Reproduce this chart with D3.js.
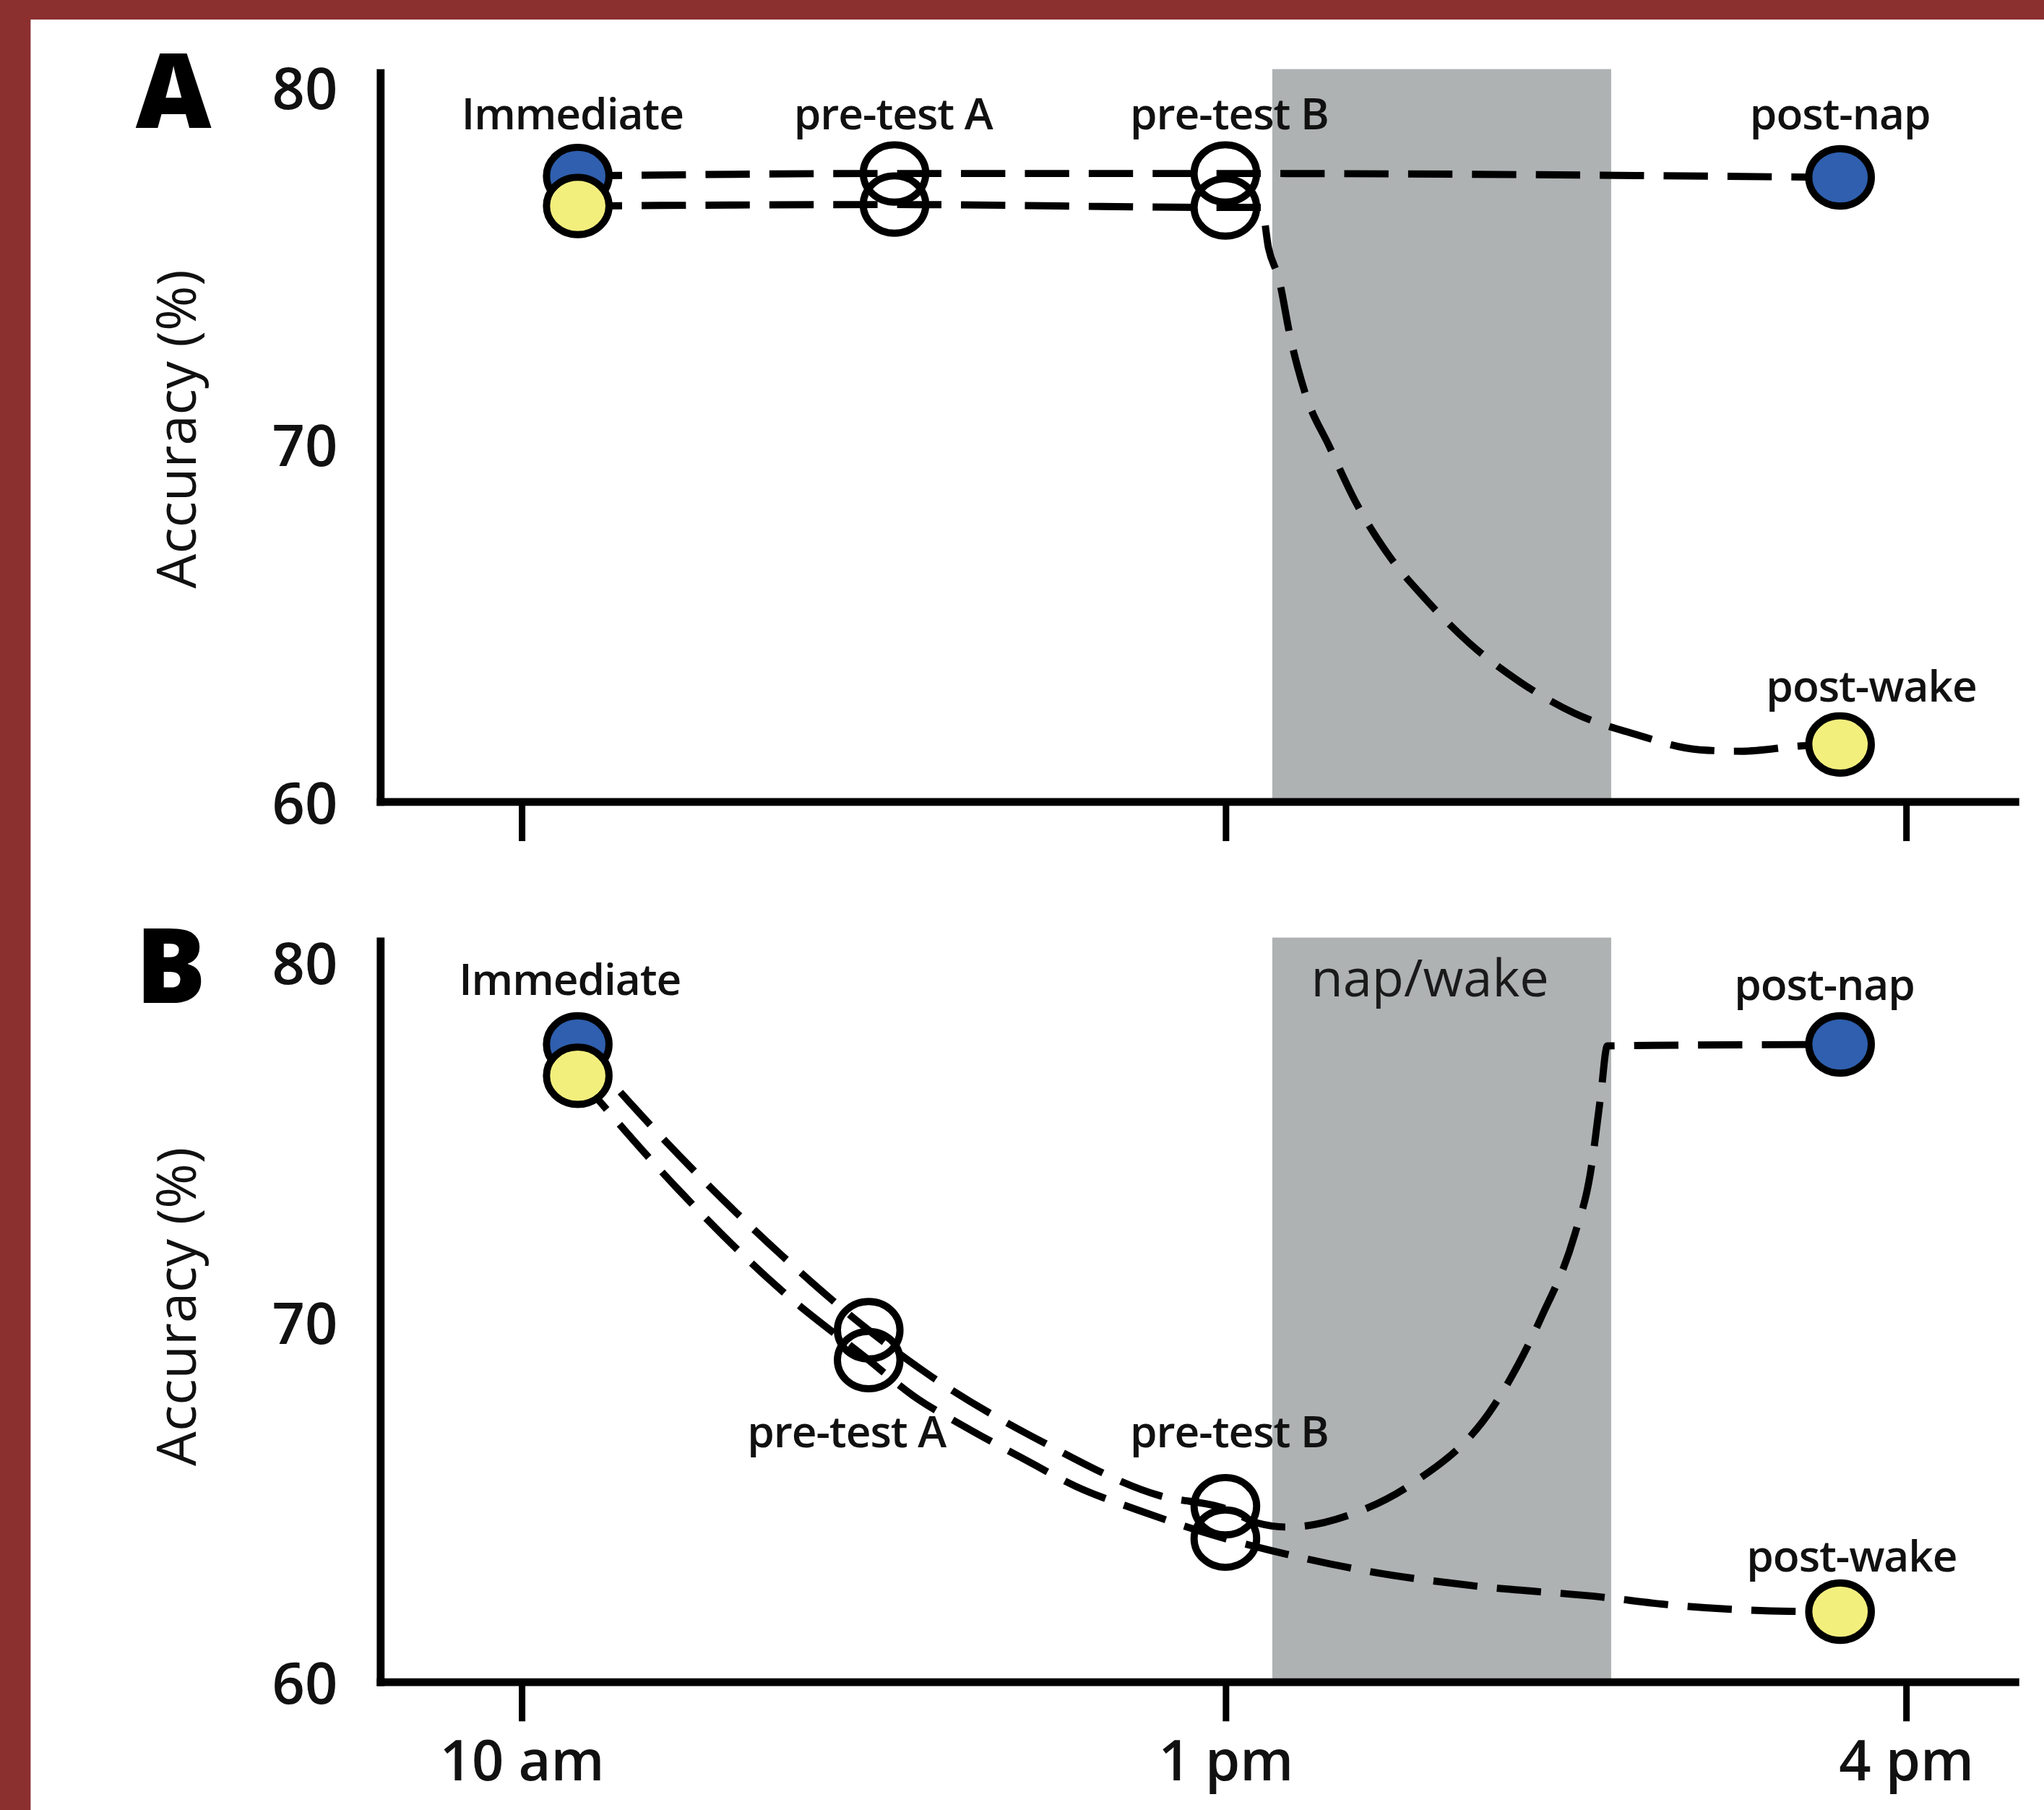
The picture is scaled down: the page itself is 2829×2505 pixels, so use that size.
<!DOCTYPE html>
<html>
<head>
<meta charset="utf-8">
<script src="https://cdn.jsdelivr.net/npm/d3@7"></script>
<style>
  html, body { margin: 0; padding: 0; background: #fff; }
  svg { display: block; }
  text { font-family: "Open Sans", "DejaVu Sans", sans-serif; fill: #111; }
</style>
</head>
<body>
<div id="chart"></div>
<script>
(function(){
  'use strict';

  // ---- data ----
  var sessions = ["Immediate", "pre-test A", "pre-test B", "post-nap", "post-wake"];
  var hourTicks = [10, 13, 16];
  var hourTickLabels = ["10 am", "1 pm", "4 pm"];
  var accuracyTicks = [60, 70, 80];
  var napWindow = [13.207, 14.701];           // hours

  // time of each session (hours), same order as sessions
  var sessionHoursA = [10.24, 11.59, 13.0, 15.71, 15.71];
  var sessionHoursB = [10.24, 11.48, 13.0, 15.71, 15.71];

  // accuracy (%) at Immediate, pre-test A, pre-test B, then post-nap / post-wake
  var napMarksA  = [77.52, 77.59, 77.59, 77.48];
  var wakeMarksA = [76.68, 76.72, 76.64, 61.61];
  var napMarksB  = [77.72, 69.78, 64.89, 77.72];
  var wakeMarksB = [76.85, 68.95, 63.99, 61.96];

  // dashed traces, [hour, accuracy]
  var napTraceA = [[10.24, 77.52], [11.59, 77.59], [13.0, 77.59], [15.71, 77.48]];
  var wakeTraceA = [[10.24, 76.68], [11.59, 76.72], [13.0, 76.64], [13.16, 76.64],
    [13.19, 75.51], [13.236, 74.64], [13.287, 72.99], [13.351, 71.46], [13.46, 69.93],
    [13.575, 68.39], [13.713, 66.97], [13.885, 65.66], [14.075, 64.45], [14.299, 63.36],
    [14.54, 62.48], [14.805, 61.9], [15.092, 61.46], [15.276, 61.42], [15.54, 61.57],
    [15.71, 61.61]];
  var napTraceB = [[10.24, 77.72], [10.667, 74.67], [11.111, 71.85], [11.48, 69.78],
    [11.75, 68.48], [12.222, 66.67], [12.722, 65.18], [13.0, 64.82], [13.144, 64.42],
    [13.276, 64.31], [13.575, 64.71], [13.822, 65.51], [14.184, 67.68], [14.391, 70.11],
    [14.54, 72.43], [14.609, 74.13], [14.655, 76.3], [14.684, 77.68], [15.71, 77.72]];
  var wakeTraceB = [[10.24, 76.85], [10.667, 73.7], [11.111, 70.87], [11.48, 68.95],
    [11.667, 67.97], [11.889, 67.1], [12.122, 66.27], [12.367, 65.43], [12.628, 64.78],
    [13.0, 63.99], [13.201, 63.66], [13.632, 63.08], [14.092, 62.68], [14.667, 62.36],
    [14.925, 62.17], [15.218, 62.03], [15.483, 61.97], [15.71, 61.96]];

  // ---- layout ----
  var W = 1568, H = 1388;
  var colors = {nap: "#2f5fae", wake: "#f3ef7d", shade: "#aeb2b2", frame: "#8b2f2f"};

  var svg = d3.select("#chart").append("svg")
    .attr("width", 2829)
    .attr("height", 2505)
    .attr("viewBox", "0 0 " + W + " " + H)
    .attr("preserveAspectRatio", "none");

  svg.append("rect").attr("width", W).attr("height", H).attr("fill", colors.frame);
  svg.append("rect").attr("x", 23.5).attr("y", 15).attr("width", W).attr("height", H).attr("fill", "#fff");

  var x = d3.scaleLinear().domain([9.4, 13, 16.5]).range([292, 940, 1549]);

  var panels = [
    {letter: "A", top: 53, y60: 615, y80: 67, hours: sessionHoursA,
     nap: napMarksA, wake: wakeMarksA, napTrace: napTraceA, wakeTrace: wakeTraceA,
     labels: [
       {grp: "nap", i: 0, dx: -4, dy: -36},
       {grp: "nap", i: 1, dx: -1, dy: -34},
       {grp: "nap", i: 2, dx: 3, dy: -34},
       {grp: "nap", i: 3, dx: 0, dy: -37},
       {grp: "wake", i: 3, dx: 24, dy: -33}
     ], tickText: false, napText: false},
    {letter: "B", top: 719, y60: 1290, y80: 738, hours: sessionHoursB,
     nap: napMarksB, wake: wakeMarksB, napTrace: napTraceB, wakeTrace: wakeTraceB,
     labels: [
       {grp: "nap", i: 0, dx: -6, dy: -38},
       {grp: "wake", i: 1, dx: -17, dy: 67},
       {grp: "nap", i: 2, dx: 3, dy: -45},
       {grp: "nap", i: 3, dx: -12, dy: -34},
       {grp: "wake", i: 3, dx: 9, dy: -31}
     ], tickText: true, napText: true}
  ];

  // marker index -> session index
  var sessionOf = {nap: [0, 1, 2, 3], wake: [0, 1, 2, 4]};

  panels.forEach(function(p){
    var g = svg.append("g").attr("class", "panel");
    var y = d3.scaleLinear().domain([60, 80]).range([p.y60, p.y80]);

    // nap / wake window
    g.append("rect")
      .attr("x", x(napWindow[0]))
      .attr("width", x(napWindow[1]) - x(napWindow[0]))
      .attr("y", p.top)
      .attr("height", y(60) - p.top)
      .attr("fill", colors.shade);

    if (p.napText) {
      g.append("text")
        .attr("x", x((napWindow[0] + napWindow[1]) / 2) - 9)
        .attr("y", y(80) + 26)
        .attr("text-anchor", "middle")
        .style("font-size", "40px")
        .style("fill", "#1a1a1a")
        .text("nap/wake");
    }

    // axes lines
    g.append("line")
      .attr("x1", x.range()[0]).attr("x2", x.range()[0])
      .attr("y1", p.top).attr("y2", y(60) + 3)
      .attr("stroke", "#000").attr("stroke-width", 6);
    g.append("line")
      .attr("x1", x.range()[0] - 3).attr("x2", x.range()[2])
      .attr("y1", y(60)).attr("y2", y(60))
      .attr("stroke", "#000").attr("stroke-width", 6);

    var xAxis = d3.axisBottom(x)
      .tickValues(hourTicks)
      .tickSize(30)
      .tickPadding(15)
      .tickFormat(function(d, i){ return p.tickText ? hourTickLabels[i] : ""; });
    var xg = g.append("g")
      .attr("transform", "translate(0," + y(60) + ")")
      .call(xAxis);
    xg.select(".domain").remove();
    xg.selectAll(".tick line").attr("stroke", "#000").attr("stroke-width", 5);
    xg.selectAll(".tick text")
      .attr("fill", "#111")
      .style("font-size", "43px")
      .style("font-weight", 600)
      .style("font-family", "'Open Sans', sans-serif");

    var yAxis = d3.axisLeft(y).tickValues(accuracyTicks).tickSize(0).tickPadding(33);
    var yg = g.append("g")
      .attr("transform", "translate(" + x.range()[0] + ",2)")
      .call(yAxis);
    yg.select(".domain").remove();
    yg.selectAll(".tick text")
      .attr("fill", "#111")
      .style("font-size", "44px")
      .style("font-weight", 600)
      .style("font-family", "'Open Sans', sans-serif");

    g.append("text")
      .attr("transform", "translate(150," + (y(70) - 12) + ") rotate(-90)")
      .attr("text-anchor", "middle")
      .style("font-size", "42px")
      .text("Accuracy (%)");

    g.append("text")
      .attr("x", 104)
      .attr("y", y(80) + 31)
      .style("font-size", "80px")
      .style("font-weight", 800)
      .style("fill", "#000")
      .text(p.letter);

    // dashed traces
    var line = d3.line()
      .x(function(d){ return x(d[0]); })
      .y(function(d){ return y(d[1]); })
      .curve(d3.curveMonotoneX);

    g.selectAll(".trace")
      .data([p.napTrace, p.wakeTrace])
      .enter()
      .append("path")
      .attr("class", "trace")
      .attr("d", line)
      .attr("fill", "none")
      .attr("stroke", "#000")
      .attr("stroke-width", 5.5)
      .attr("stroke-dasharray", "34,15");

    // markers
    ["nap", "wake"].forEach(function(grp){
      var marks = p[grp].map(function(v, i){
        return {hour: p.hours[sessionOf[grp][i]], acc: v, filled: i === 0 || i === 3};
      });
      g.selectAll(".mark-" + grp)
        .data(marks)
        .enter()
        .append("ellipse")
        .attr("class", "mark-" + grp)
        .attr("cx", function(d){ return x(d.hour); })
        .attr("cy", function(d){ return y(d.acc); })
        .attr("rx", 24)
        .attr("ry", 22)
        .attr("fill", function(d){ return d.filled ? colors[grp] : "none"; })
        .attr("stroke", "#000")
        .attr("stroke-width", 5.5);
    });

    // session labels
    g.selectAll(".session")
      .data(p.labels)
      .enter()
      .append("text")
      .attr("class", "session")
      .attr("x", function(d){ return x(p.hours[sessionOf[d.grp][d.i]]) + d.dx; })
      .attr("y", function(d){ return y(p[d.grp][d.i]) + d.dy; })
      .attr("text-anchor", "middle")
      .style("font-size", "33.5px")
      .style("font-weight", 600)
      .style("letter-spacing", "-0.6px")
      .text(function(d){ return sessions[sessionOf[d.grp][d.i]]; });
  });
})();
</script>
</body>
</html>
